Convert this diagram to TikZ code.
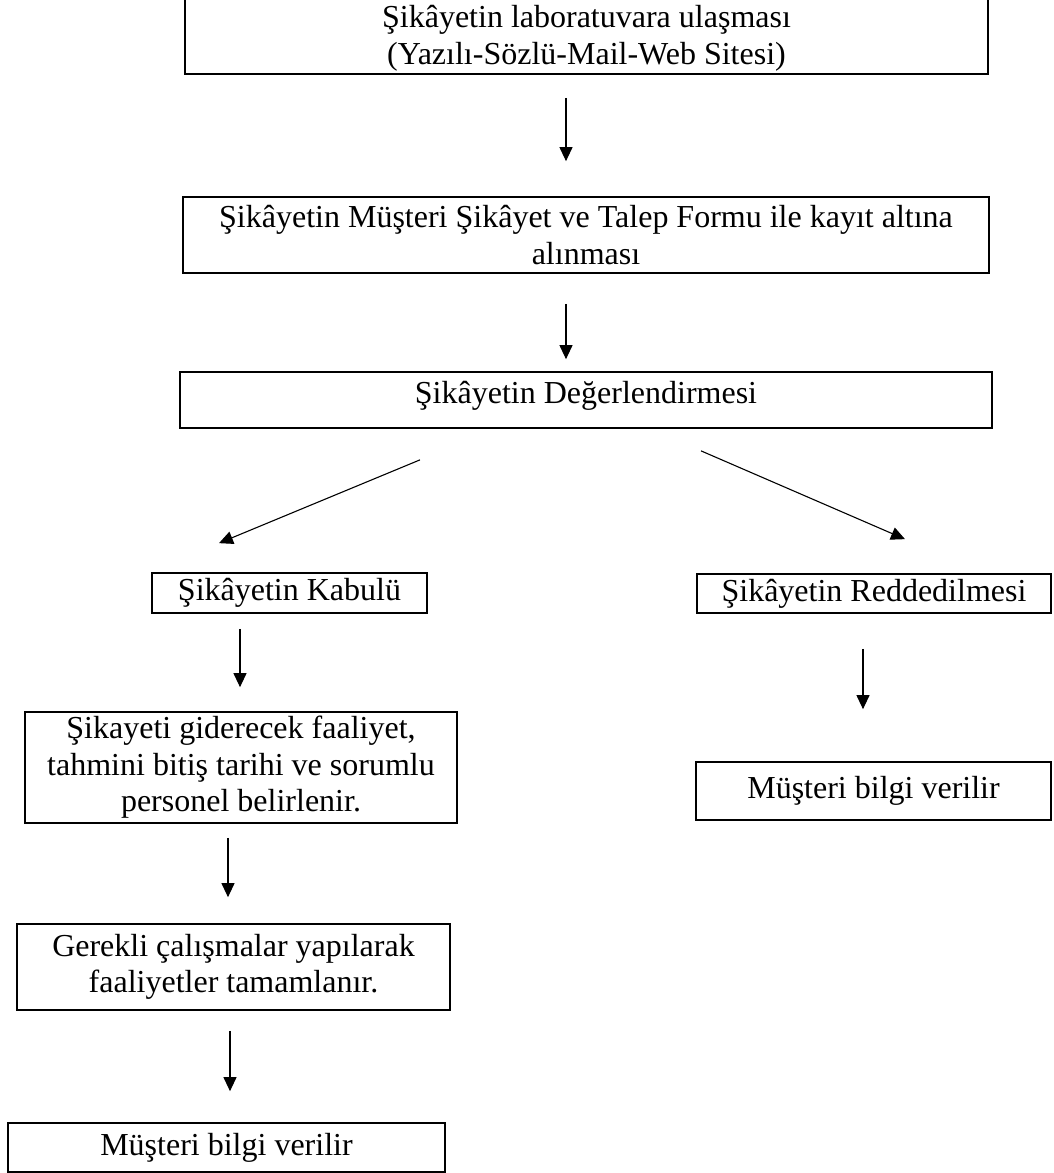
\documentclass[tikz,border=0pt]{standalone}
\usepackage{fontspec}
\setmainfont{Liberation Serif}
\usetikzlibrary{arrows.meta,calc}
\tikzset{
  box/.style={draw, line width=1.7pt, rectangle, inner sep=0pt, align=center,
    font=\fontsize{32}{36.5}\selectfont},
  boxtext/.style={inner sep=0pt, align=center, font=\fontsize{32}{36.5}\selectfont},
  arr/.style={line width=1.1pt, -{Triangle[length=14pt,width=13pt]}}
}
\begin{document}
\begin{tikzpicture}[x=1pt,y=-1pt]
\useasboundingbox (0,0) rectangle (1054,1173);
\fill[white] (0,0) rectangle (1054,1173);
\clip (0,0) rectangle (1054,1173);
\node[box, minimum width=803pt, minimum height=80pt] (b1) at (586.5,34) {};
\node[boxtext] (b1t) at (586.5,38.5) {Şikâyetin laboratuvara ulaşması\\(Yazılı-Sözlü-Mail-Web Sitesi)};
\node[box, minimum width=806pt, minimum height=76pt] (b2) at (586,235) {Şikâyetin Müşteri Şikâyet ve Talep Formu ile kayıt altına\\alınması};
\node[box, minimum width=812pt, minimum height=56pt, text depth=16pt] (b3) at (586,400) {Şikâyetin Değerlendirmesi};
\node[box, minimum width=275pt, minimum height=40pt] (b4) at (289.5,593) {Şikâyetin Kabulü};
\node[box, minimum width=354pt, minimum height=39pt] (b5) at (874,593.5) {Şikâyetin Reddedilmesi};
\node[box, minimum width=432pt, minimum height=111pt] (b6) at (241,767.5) {Şikayeti giderecek faaliyet,\\tahmini bitiş tarihi ve sorumlu\\personel belirlenir.};
\node[box, minimum width=355pt, minimum height=58pt] (b7) at (873.5,791) {Müşteri bilgi verilir};
\node[box, minimum width=433pt, minimum height=86pt] (b8) at (233.5,967) {Gerekli çalışmalar yapılarak\\faaliyetler tamamlanır.};
\node[box, minimum width=437pt, minimum height=49pt] (b9) at (226.5,1147.5) {Müşteri bilgi verilir};

\draw[arr] ($(b1.south)+(-20.5,23)$) -- ($(b2.north)+(-20,-35)$);
\draw[arr] ($(b2.south)+(-20,30)$) -- ($(b3.north)+(-20,-12)$);
\draw[arr] ($(b3.south)+(-166,31)$) -- ($(b4.north)+(-70.5,-29)$);
\draw[arr] ($(b3.south)+(115,22)$) -- ($(b5.north)+(31,-34)$);
\draw[arr] ($(b4.south)+(-49.5,15)$) -- ($(b6.north)+(-1,-24)$);
\draw[arr] ($(b5.south)+(-11,35)$) -- ($(b7.north)+(-10.5,-52)$);
\draw[arr] ($(b6.south)+(-13,14)$) -- ($(b8.north)+(-5.5,-26)$);
\draw[arr] ($(b8.south)+(-3.5,20)$) -- ($(b9.north)+(3.5,-31)$);
\end{tikzpicture}
\end{document}
